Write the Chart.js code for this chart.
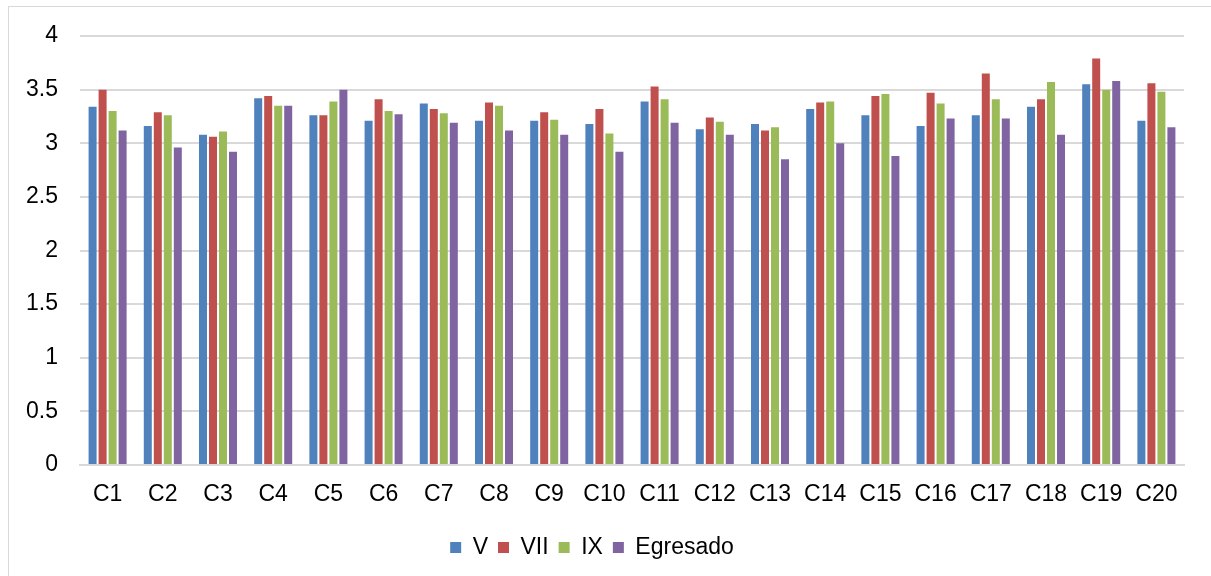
<!DOCTYPE html>
<html>
<head>
<meta charset="utf-8">
<script src="https://cdn.jsdelivr.net/npm/chart.js@4/dist/chart.umd.min.js"></script>
<style>
  html, body { margin: 0; padding: 0; background: #fff; overflow: hidden; }
  #frame { position: absolute; left: 8px; top: 6px; width: 1210px; height: 580px; border: 1px solid #d9d9d9; box-sizing: border-box; }
  #wrap { position: absolute; left: 0; top: 0; width: 1211px; height: 576px; }
</style>
</head>
<body>
<div id="frame"></div>
<div id="wrap"><canvas id="c" width="1211" height="576"></canvas></div>
<script>
const categories = ["C1","C2","C3","C4","C5","C6","C7","C8","C9","C10","C11","C12","C13","C14","C15","C16","C17","C18","C19","C20"];
const seriesV        = [3.34,3.16,3.08,3.42,3.26,3.21,3.37,3.21,3.21,3.18,3.39,3.13,3.18,3.32,3.26,3.16,3.26,3.34,3.55,3.21];
const seriesVII      = [3.50,3.29,3.06,3.44,3.26,3.41,3.32,3.38,3.29,3.32,3.53,3.24,3.12,3.38,3.44,3.47,3.65,3.41,3.79,3.56];
const seriesIX       = [3.30,3.26,3.11,3.35,3.39,3.30,3.28,3.35,3.22,3.09,3.41,3.20,3.15,3.39,3.46,3.37,3.41,3.57,3.50,3.48];
const seriesEgresado = [3.12,2.96,2.92,3.35,3.50,3.27,3.19,3.12,3.08,2.92,3.19,3.08,2.85,3.00,2.88,3.23,3.23,3.08,3.58,3.15];
const seriesNames = ["V","VII","IX","Egresado"];
const yTicks = [0,0.5,1,1.5,2,2.5,3,3.5,4];

const colors = ["#4f81bd","#c0504d","#9bbb59","#8064a2"];
const allSeries = [seriesV, seriesVII, seriesIX, seriesEgresado];
const FONT = "'Liberation Sans', Arial, sans-serif";

new Chart(document.getElementById('c'), {
  type: 'bar',
  data: {
    labels: categories,
    datasets: allSeries.map((d, i) => ({
      label: seriesNames[i],
      data: d,
      backgroundColor: colors[i],
      borderWidth: 0,
      categoryPercentage: 0.725,
      barPercentage: 0.8
    }))
  },
  options: {
    responsive: false,
    animation: false,
    devicePixelRatio: 1,
    layout: { padding: { left: 0, right: 27, top: 36, bottom: 7 } },
    scales: {
      y: {
        min: 0, max: 4,
        afterBuildTicks: (s) => { s.ticks = yTicks.map(v => ({ value: v })); },
        afterFit: (s) => { s.width = 80; },
        border: { display: false },
        grid: { color: '#d9d9d9', lineWidth: 2, drawTicks: false },
        ticks: { padding: 22, color: '#000', font: { family: FONT, size: 23 }, callback: (v) => String(v) }
      },
      x: {
        afterFit: (s) => { s.height = 61; },
        border: { display: true, color: '#d9d9d9', width: 2 },
        grid: { display: false, drawTicks: false },
        ticks: { padding: 16, color: '#000', font: { family: FONT, size: 23 }, maxRotation: 0, autoSkip: false }
      }
    },
    plugins: {
      legend: {
        position: 'bottom',
        labels: {
          boxWidth: 11, boxHeight: 11, padding: 10, color: '#000',
          font: { family: FONT, size: 23 }
        }
      },
      tooltip: { enabled: false }
    }
  }
});
</script>
</body>
</html>
